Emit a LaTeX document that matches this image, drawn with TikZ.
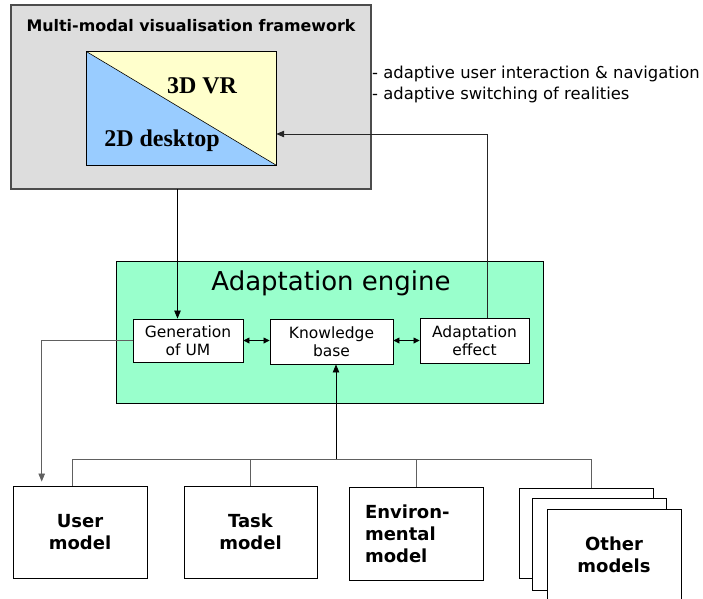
\documentclass[tikz,border=0pt]{standalone}
\usepackage{fontspec}
\setmainfont{DejaVu Sans}
\newfontfamily\timesfont{Liberation Serif}
\usetikzlibrary{arrows.meta,calc}

\definecolor{framegray}{HTML}{DDDDDD}
\definecolor{enginegreen}{HTML}{99FFCC}
\definecolor{vryellow}{HTML}{FFFFCC}
\definecolor{deskblue}{HTML}{99CCFF}
\definecolor{wiregray}{HTML}{606060}

\tikzset{
  box/.style={draw, fill=white, inner sep=0pt, align=center, line width=0.9pt},
  small/.style={box, font=\fontsize{15.5}{18}\selectfont},
  model/.style={box, minimum width=134pt, minimum height=92pt, font=\fontsize{18}{22}\selectfont\bfseries},
  wire/.style={wiregray, line width=0.8pt},
  arr/.style={line width=0.8pt, -{Triangle[length=8pt,width=6.5pt]}},
  dbl/.style={line width=0.8pt, {Triangle[length=6pt,width=6pt]}-{Triangle[length=6pt,width=6pt]}},
  realm/.style={font=\fontsize{24}{28}\selectfont\timesfont\bfseries},
  note/.style={anchor=base west, inner sep=0pt, font=\fontsize{16.4}{20}\selectfont}
}

\begin{document}
\begin{tikzpicture}[x=1pt,y=-1pt]
\useasboundingbox (0,0) rectangle (703,598);

% visualisation framework
\node[draw=black!70, fill=framegray, line width=1.2pt, minimum width=360pt, minimum height=184pt, inner sep=0pt] (frame) at (191,97) {};
\node[font=\fontsize{15.9}{18}\selectfont\bfseries] (title) at (191,26) {Multi-modal visualisation framework};
\node[minimum width=189pt, minimum height=113pt, inner sep=0pt] (screen) at (181.5,108.5) {};
\fill[deskblue] (screen.north west) -- (screen.south east) -- (screen.south west) -- cycle;
\fill[vryellow] (screen.north west) -- (screen.north east) -- (screen.south east) -- cycle;
\draw[line width=0.8pt] (screen.north west) rectangle (screen.south east);
\draw[line width=0.6pt] (screen.north west) -- (screen.south east);
\node[realm] (vr) at (202,86) {3D VR};
\node[realm] (desk) at (162,141) {2D desktop};

\node[note] (note1) at (372,78) {- adaptive user interaction \& navigation};
\node[note] (note2) at (372,99.5) {- adaptive switching of realities};

% adaptation engine
\node[draw, fill=enginegreen, line width=0.9pt, minimum width=427pt, minimum height=142pt, inner sep=0pt] (engine) at (329.5,332) {};
\node[font=\fontsize{26}{30}\selectfont] (enginetitle) at (331,283) {Adaptation engine};
\node[small, minimum width=110pt, minimum height=43pt] (gen) at (188,340.5) {Generation\\of UM};
\node[small, minimum width=123pt, minimum height=45pt] (kb) at (331.5,341.5) {Knowledge\\base};
\node[small, minimum width=109pt, minimum height=45pt] (effect) at (474.5,340.5) {Adaptation\\effect};

% models
\node[model] (user) at (80,532) {User\\model};
\node[model, minimum width=133pt] (task) at (250.5,532) {Task\\model};
\node[model, minimum height=93pt, text width=102pt, align=left] (env) at (416,533.5) {Environ-\\mental\\model};
\node[model, minimum height=90pt] (back) at (586,533) {};
\node[model] (middle) at (599,544) {};
\node[model] (other) at (614,555) {Other\\models};

% connectors
\coordinate (drop) at (177.5,189);
\draw[arr] (drop) -- (drop |- gen.north);

\coordinate (bend) at (487,134);
\draw[arr, black!85] (bend |- effect.north) -- (bend) -- (bend -| screen.east);

\draw[dbl] (gen.east) -- (gen.east -| kb.west);
\draw[dbl] (effect.west -| kb.east) -- (effect.west);

\coordinate (corner) at (41.7,340.5);
\draw[wire, arr, shorten >=4pt] (gen.west) -- (corner) -- (corner |- user.north);

\coordinate (bus) at (336,459);
\draw[arr] (bus) -- (bus |- kb.south);
\draw[wire] ([xshift=-8pt]user.north) |- (bus) -| ([xshift=5pt]back.north);
\draw[wire] (task.north) -- (task.north |- bus);
\draw[wire] (env.north) -- (env.north |- bus);
\end{tikzpicture}
\end{document}
